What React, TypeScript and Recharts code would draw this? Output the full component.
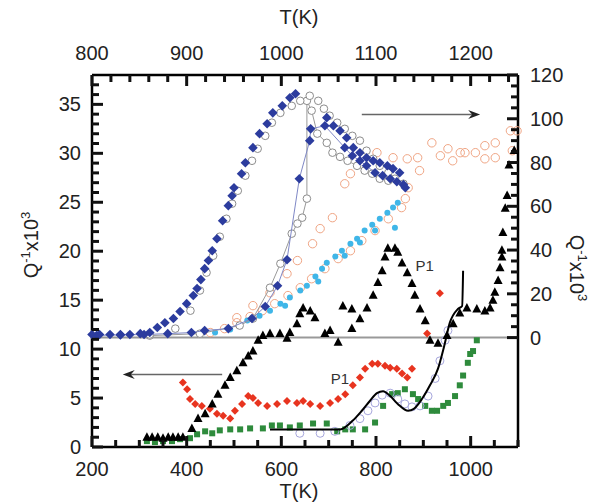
import { ScatterChart, Scatter, XAxis, YAxis, ReferenceLine, ReferenceDot } from "recharts";

type Pt = [number, number];

// ---- upper curves: top T(K) axis, right Q^-1 axis ----
const blueCooling: Pt[] = [
  [800, 1.4], [808, 1.4], [819, 1.4], [830, 1.4], [840, 1.4], [851, 1.8], [861, 2.3], [869, 4.6],
  [877, 6.8], [886, 8.7], [893, 11.9], [900, 15.5], [907, 19.2], [911, 22.4], [915, 26.5], [919, 31.5],
  [923, 35.2], [927, 39.7], [932, 45.2], [938, 53.4], [944, 60.3], [948, 64.8], [950, 68.5], [958, 74.9],
  [962, 79.9], [970, 86.8], [977, 93.2], [985, 97.7], [991, 102.7], [1001, 105.9], [1009, 109.6], [1015, 111.4],
  [1048, 100.5], [1055, 96.8], [1062, 94.5], [1069, 91.3], [1076, 86.8], [1083, 84.5], [1090, 82.2],
  [1097, 80.8], [1104, 79.9], [1112, 78.5], [1118, 77.2], [1125, 75.3],
];
const blueHeating: Pt[] = [
  [805, 1.0], [830, 1.2], [855, 1.4], [880, 1.8], [905, 2.3], [919, 3.2], [944, 4.1], [969, 8.7],
  [983, 14.2], [996, 23.7], [1006, 35.6], [1019, 72.6], [1030, 90.0], [1031, 95.4], [1046, 96.8],
  [1067, 86.8], [1075, 83.1], [1083, 80.8], [1090, 78.5], [1099, 75.3], [1107, 74.0], [1115, 72.6],
  [1122, 71.2], [1129, 69.9], [1131, 68.5],
];
const grayCooling: Pt[] = [
  [861, 1.4], [888, 4.1], [904, 12.3], [914, 21.5], [921, 29.7], [928, 37.4], [935, 46.1], [942, 54.3],
  [948, 61.2], [954, 67.1], [962, 74.0], [969, 80.8], [975, 86.3], [983, 92.2], [990, 98.2], [999, 102.7],
  [1011, 105.9], [1020, 108.2], [1030, 110.5], [1039, 108.2], [1045, 104.6], [1051, 101.4], [1059, 98.2],
  [1067, 95.4], [1075, 92.2], [1083, 90.0], [1090, 85.4], [1097, 81.7], [1104, 78.5], [1113, 75.3],
  [1120, 72.6], [1129, 70.3],
];
const grayHeating: Pt[] = [
  [861, 0.9], [914, 1.8], [956, 5.5], [970, 8.7], [988, 22.8], [999, 33.8], [1011, 47.5], [1017, 52.1],
  [1022, 54.8], [1027, 63.5], [1027, 108.2], [1032, 103.7], [1038, 93.2], [1048, 89.0], [1054, 84.5],
  [1062, 82.6], [1070, 80.8], [1080, 78.5], [1088, 76.3], [1096, 74.9], [1104, 72.6], [1113, 71.7],
];
const cyanDots: Pt[] = [
  [914, 1.8], [930, 2.3], [946, 3.7], [964, 7.8], [977, 10.0], [988, 12.3], [999, 15.5], [1004, 14.6],
  [1009, 18.3], [1020, 21.5], [1027, 23.7], [1036, 27.9], [1039, 25.6], [1043, 31.5], [1048, 34.2],
  [1057, 37.0], [1064, 39.7], [1067, 37.4], [1073, 42.9], [1080, 45.2], [1083, 43.4], [1088, 48.9],
  [1096, 51.6], [1099, 48.9], [1104, 54.3], [1112, 57.1], [1118, 59.4], [1120, 50.2], [1123, 61.6],
];
const orangeCircles: Pt[] = [
  [925, 2.3], [940, 4.1], [953, 6.8], [967, 9.6], [980, 12.3], [993, 15.5], [1007, 19.2], [1020, 22.8],
  [1032, 26.9], [1046, 31.5], [1060, 36.1], [1073, 39.7], [1085, 44.3], [1099, 48.9], [1113, 54.3],
  [1127, 59.4], [1131, 63.5], [1134, 68.5],
  [953, 9.1], [970, 14.6], [988, 20.5], [1006, 29.2], [1017, 35.2], [1033, 42.9], [1041, 49.8],
  [1054, 54.8], [1067, 70.3], [1073, 74.9], [1101, 84.5], [1118, 82.2], [1133, 81.7], [1144, 82.2],
  [1146, 76.3], [1159, 89.0], [1168, 83.1], [1176, 86.3], [1181, 80.8], [1189, 84.5], [1194, 84.5],
  [1205, 84.5], [1215, 87.7], [1215, 81.7], [1226, 89.0], [1226, 82.2], [1242, 94.5], [1244, 85.4],
  [1249, 94.5],
];

// ---- lower curves: bottom T(K) axis, left Q^-1 axis ----
const blackTriangles: Pt[] = [
  [316, 1.0], [327, 1.0], [339, 1.0], [350, 0.9], [361, 1.0], [371, 1.0], [382, 1.0], [392, 1.0],
  [411, 1.9], [424, 2.9], [439, 3.4], [454, 4.4], [466, 5.4], [481, 6.3], [492, 7.1], [506, 7.8],
  [519, 8.6], [530, 9.3], [540, 9.8], [551, 10.9], [561, 11.4], [576, 11.6], [597, 11.6], [612, 11.1],
  [618, 11.7], [633, 12.6], [639, 13.6], [646, 14.2], [661, 13.9], [671, 13.2], [692, 11.6], [703, 11.9],
  [720, 10.7], [730, 14.4], [749, 14.1], [749, 12.1], [766, 13.1], [781, 14.2], [794, 15.5], [804, 16.8],
  [813, 18.0], [819, 19.4], [825, 20.3], [840, 20.3], [846, 19.9], [855, 18.8], [866, 17.8], [876, 16.7],
  [882, 15.5], [893, 14.1], [904, 12.9], [914, 10.9], [931, 10.6], [950, 11.4], [963, 12.6], [977, 13.7],
  [992, 14.2], [1013, 14.1], [1030, 13.9], [1041, 14.2], [1047, 15.0], [1051, 15.8], [1058, 17.0],
  [1062, 18.3], [1066, 19.4], [1066, 20.1], [1068, 21.9], [1073, 24.4], [1077, 25.7], [1081, 28.8],
  [1092, 30.3],
];
const redDiamonds: Pt[] = [
  [392, 6.6], [401, 5.9], [407, 4.9], [418, 4.4], [432, 4.2], [449, 3.9], [464, 3.4], [477, 3.2],
  [492, 2.9], [502, 3.7], [517, 4.4], [530, 5.2], [540, 5.0], [551, 4.5], [570, 4.2], [591, 4.4],
  [612, 4.7], [633, 4.5], [646, 4.7], [661, 4.4], [682, 4.2], [703, 4.5], [720, 4.9], [735, 5.4],
  [751, 6.3], [766, 7.1], [777, 8.0], [792, 8.5], [804, 8.5], [819, 8.3], [830, 8.1], [844, 8.0],
  [855, 7.5], [866, 7.1], [876, 8.0], [908, 11.6], [935, 15.7],
];
const greenSquares: Pt[] = [
  [316, 0.6], [333, 0.5], [350, 0.6], [369, 0.6], [386, 0.8], [407, 0.9], [422, 1.3], [439, 1.6],
  [454, 1.4], [470, 1.7], [492, 1.8], [513, 1.8], [534, 1.9], [561, 1.9], [580, 2.2], [597, 2.2],
  [618, 2.0], [639, 2.2], [667, 2.4], [696, 2.4], [718, 1.6], [735, 1.8], [751, 1.8], [777, 1.8],
  [798, 2.5], [815, 4.2], [834, 5.4], [846, 5.5], [861, 5.9], [878, 5.4], [889, 4.9], [904, 4.2],
  [918, 3.7], [929, 3.7], [942, 4.2], [952, 4.5], [967, 5.2], [977, 6.3], [984, 7.3], [994, 8.6],
  [999, 9.5], [1005, 9.8], [1013, 10.9],
];
const blackCurve: Pt[] = [
  [576, 1.8], [639, 1.8], [682, 1.8], [724, 1.8], [751, 2.7], [770, 3.7], [787, 4.7], [802, 5.5],
  [815, 5.7], [830, 5.2], [846, 4.4], [868, 3.7], [880, 3.9], [897, 4.9], [914, 6.3], [931, 8.0],
  [944, 10.3], [956, 12.7], [973, 14.1], [982, 14.4], [984, 18.0],
];
const lavenderCircles: Pt[] = [
  [639, 1.4], [682, 1.4], [713, 1.6], [745, 2.2], [766, 2.9], [783, 3.7], [798, 4.5], [813, 5.3],
  [830, 5.5], [846, 4.9], [861, 4.4], [876, 4.1], [893, 4.2], [910, 5.2], [925, 7.0], [935, 8.8],
  [946, 10.9], [952, 11.9],
];

// ---- axes / ticks ----
const range = (a: number, b: number, s: number) => {
  const out: number[] = [];
  for (let v = a; v <= b + 1e-9; v += s) out.push(v);
  return out;
};
const bottomDomain = [200, 1100];
const topDomain = [800, 1250];
const leftDomain = [0, 38];
const rightDomain = [-50, 120];
const bottomTicks = range(200, 1100, 50);
const bottomLabels = [200, 400, 600, 800, 1000];
const topTicks = range(800, 1240, 20);
const topLabels = [800, 900, 1000, 1100, 1200];
const leftTicks = range(0, 37, 1);
const leftLabels = [0, 5, 10, 15, 20, 25, 30, 35];
const rightTicks = range(0, 120, 5);
const rightLabels = [0, 20, 40, 60, 80, 100, 120];

const toXY = (pts: Pt[]) => pts.map(([t, q]) => ({ t, q }));
const FONT = "'Liberation Sans', Arial, sans-serif";
const W = 598, H = 504;
const M = { top: 35, right: 30, bottom: 27, left: 32 };

// the tick overlay works in bottom/left units; top and right values are mapped across linearly
const topToBottom = (t: number) =>
  bottomDomain[0] + ((t - topDomain[0]) / (topDomain[1] - topDomain[0])) * (bottomDomain[1] - bottomDomain[0]);
const rightToLeft = (q: number) =>
  leftDomain[0] + ((q - rightDomain[0]) / (rightDomain[1] - rightDomain[0])) * (leftDomain[1] - leftDomain[0]);

const bottomTickPts = bottomTicks.map((t) => ({ t, q: leftDomain[0], major: bottomLabels.includes(t) }));
const topTickPts = topTicks.map((t) => ({ t: topToBottom(t), q: leftDomain[1], major: topLabels.includes(t) }));
const leftTickPts = leftTicks.map((q) => ({ t: bottomDomain[0], q, major: leftLabels.includes(q) }));
const rightTickPts = rightTicks.map((q) => ({ t: bottomDomain[1], q: rightToLeft(q), major: rightLabels.includes(q) }));

const tickShape = (dx: number, dy: number) => (p: any) => {
  const len = p.payload && p.payload.major ? 11 : 7;
  return <path d={`M${p.cx},${p.cy}L${p.cx + dx * len},${p.cy + dy * len}`} stroke="#111" strokeWidth={3} />;
};

const makeLabel = (side: "bottom" | "top" | "left" | "right", labels: number[]) => (props: any) => {
  const { x, y, payload } = props;
  const v = payload.value;
  if (!labels.includes(v)) return <g />;
  const txt = { fontSize: 20, fill: "#222", fontFamily: FONT } as const;
  if (side === "bottom") return <text x={x} y={y + 29} textAnchor="middle" {...txt}>{v}</text>;
  if (side === "top") return <text x={x} y={y - 15} textAnchor="middle" {...txt}>{v}</text>;
  if (side === "left") return <text x={x - 11} y={y + 7} textAnchor="end" {...txt}>{v}</text>;
  return <text x={x + 12} y={y + 7} textAnchor="start" {...txt}>{v}</text>;
};

const diamond = (fill: string, r: number) => (p: any) => (
  <path d={`M${p.cx},${p.cy - r}L${p.cx + r},${p.cy}L${p.cx},${p.cy + r}L${p.cx - r},${p.cy}Z`} fill={fill} />
);
const triangle = (p: any) => (
  <path d={`M${p.cx},${p.cy - 5}L${p.cx + 4.5},${p.cy + 3.5}L${p.cx - 4.5},${p.cy + 3.5}Z`} fill="#000" />
);
const square = (p: any) => <rect x={p.cx - 3} y={p.cy - 3} width={6} height={6} fill="#2e8b3c" />;
const ring = (stroke: string, r: number, fill = "none") => (p: any) => (
  <circle cx={p.cx} cy={p.cy} r={r} fill={fill} stroke={stroke} strokeWidth={1} />
);
const dot = (fill: string, r: number) => (p: any) => <circle cx={p.cx} cy={p.cy} r={r} fill={fill} />;
const noMark = () => <g />;

const arrow = (p: any) => {
  const { x1, y1, x2, y2 } = p;
  const dir = x2 > x1 ? 1 : -1;
  return (
    <g>
      <line x1={x1} y1={y1} x2={x2 - dir * 4} y2={y2} stroke="#666" strokeWidth={1.5} />
      <path d={`M${x2},${y2}L${x2 - dir * 12},${y2 - 4.5}L${x2 - dir * 8},${y2}L${x2 - dir * 12},${y2 + 4.5}Z`} fill="#222" />
    </g>
  );
};
const p1Label = (p: any) => (
  <text x={p.cx} y={p.cy} textAnchor="middle" dominantBaseline="central" fontSize={15} fill="#333" fontFamily={FONT}>P1</text>
);

const qLabel = (
  <span>Q<sup style={{ fontSize: 13 }}>-1</sup>x10<sup style={{ fontSize: 13 }}>3</sup></span>
);

const axisCommon = {
  interval: 0 as const,
  tickSize: 0,
  tickMargin: 0,
  tickLine: false,
  axisLine: { stroke: "#000", strokeWidth: 2.5 },
};

// second chart with the same plot rectangle, carrying only the inward tick marks
function TickOverlay() {
  return (
    <div style={{ position: "absolute", left: 0, top: 0, pointerEvents: "none" }}>
      <ScatterChart width={W} height={H} margin={{ top: M.top + 40, right: M.right + 50, bottom: M.bottom, left: M.left }}>
        <XAxis xAxisId="b" type="number" dataKey="t" domain={bottomDomain} height={30} tick={false} axisLine={false} tickLine={false} />
        <YAxis yAxisId="l" type="number" dataKey="q" domain={leftDomain} width={60} tick={false} axisLine={false} tickLine={false} />
        <Scatter xAxisId="b" yAxisId="l" data={bottomTickPts} shape={tickShape(0, -1)} isAnimationActive={false} />
        <Scatter xAxisId="b" yAxisId="l" data={topTickPts} shape={tickShape(0, 1)} isAnimationActive={false} />
        <Scatter xAxisId="b" yAxisId="l" data={leftTickPts} shape={tickShape(1, 0)} isAnimationActive={false} />
        <Scatter xAxisId="b" yAxisId="l" data={rightTickPts} shape={tickShape(-1, 0)} isAnimationActive={false} />
      </ScatterChart>
    </div>
  );
}

export default function App() {
  return (
    <div style={{ position: "absolute", left: 0, top: 0, width: W, height: H, background: "#fff", fontFamily: FONT }}>
      <ScatterChart width={W} height={H} margin={M}>
        <XAxis xAxisId="bottom" orientation="bottom" type="number" dataKey="t" domain={bottomDomain}
          ticks={bottomTicks} height={30} tick={makeLabel("bottom", bottomLabels)} {...axisCommon} />
        <XAxis xAxisId="top" orientation="top" type="number" dataKey="t" domain={topDomain}
          ticks={topTicks} height={40} tick={makeLabel("top", topLabels)} {...axisCommon} />
        <YAxis yAxisId="left" orientation="left" type="number" dataKey="q" domain={leftDomain}
          ticks={leftTicks} width={60} tick={makeLabel("left", leftLabels)} {...axisCommon} />
        <YAxis yAxisId="right" orientation="right" type="number" dataKey="q" domain={rightDomain}
          ticks={rightTicks} width={50} tick={makeLabel("right", rightLabels)} {...axisCommon} />

        <ReferenceLine xAxisId="top" yAxisId="right" y={0} stroke="#999" strokeWidth={2} />

        <Scatter xAxisId="top" yAxisId="right" data={toXY(orangeCircles)} shape={ring("#f0a584", 4.2)} isAnimationActive={false} />
        <Scatter xAxisId="top" yAxisId="right" data={toXY(cyanDots)} shape={dot("#3fb6e8", 3)} isAnimationActive={false} />
        <Scatter xAxisId="top" yAxisId="right" data={toXY(grayHeating)} shape={ring("#8c8c8c", 3.8, "#fff")}
          line={{ stroke: "#9a9a9a", strokeWidth: 1 }} isAnimationActive={false} />
        <Scatter xAxisId="top" yAxisId="right" data={toXY(grayCooling)} shape={ring("#8c8c8c", 3.8, "#fff")} isAnimationActive={false} />
        <Scatter xAxisId="top" yAxisId="right" data={toXY(blueHeating)} shape={diamond("#2c3c9e", 4.8)}
          line={{ stroke: "#7f88c6", strokeWidth: 1 }} isAnimationActive={false} />
        <Scatter xAxisId="top" yAxisId="right" data={toXY(blueCooling)} shape={diamond("#2c3c9e", 4.8)} isAnimationActive={false} />

        <Scatter xAxisId="bottom" yAxisId="left" data={toXY(greenSquares)} shape={square} isAnimationActive={false} />
        <Scatter xAxisId="bottom" yAxisId="left" data={toXY(lavenderCircles)} shape={ring("#a6a6dc", 4)} isAnimationActive={false} />
        <Scatter xAxisId="bottom" yAxisId="left" data={toXY(blackCurve)} shape={noMark}
          line={{ stroke: "#000", strokeWidth: 2 }} lineJointType="monotoneX" isAnimationActive={false} />
        <Scatter xAxisId="bottom" yAxisId="left" data={toXY(redDiamonds)} shape={diamond("#e8341f", 4)} isAnimationActive={false} />
        <Scatter xAxisId="bottom" yAxisId="left" data={toXY(blackTriangles)} shape={triangle} isAnimationActive={false} />

        <ReferenceLine xAxisId="top" yAxisId="right" segment={[{ x: 1085, y: 102 }, { x: 1210, y: 102 }]} shape={arrow} />
        <ReferenceLine xAxisId="bottom" yAxisId="left" segment={[{ x: 475, y: 7.4 }, { x: 265, y: 7.4 }]} shape={arrow} />
        <ReferenceDot xAxisId="bottom" yAxisId="left" x={903} y={18.5} shape={p1Label} />
        <ReferenceDot xAxisId="bottom" yAxisId="left" x={724} y={7.0} shape={p1Label} />
      </ScatterChart>

      <TickOverlay />

      <div style={{ position: "absolute", left: 0, width: W, top: 6, textAlign: "center", fontSize: 20, color: "#222" }}>T(K)</div>
      <div style={{ position: "absolute", left: 0, width: W, top: 480, textAlign: "center", fontSize: 20, color: "#222" }}>T(K)</div>
      <div style={{ position: "absolute", left: 30, top: 245, fontSize: 20, color: "#222", whiteSpace: "nowrap",
        transform: "translate(-50%, -50%) rotate(-90deg)" }}>{qLabel}</div>
      <div style={{ position: "absolute", left: 578, top: 268, fontSize: 20, color: "#222", whiteSpace: "nowrap",
        transform: "translate(-50%, -50%) rotate(90deg)" }}>{qLabel}</div>
    </div>
  );
}
